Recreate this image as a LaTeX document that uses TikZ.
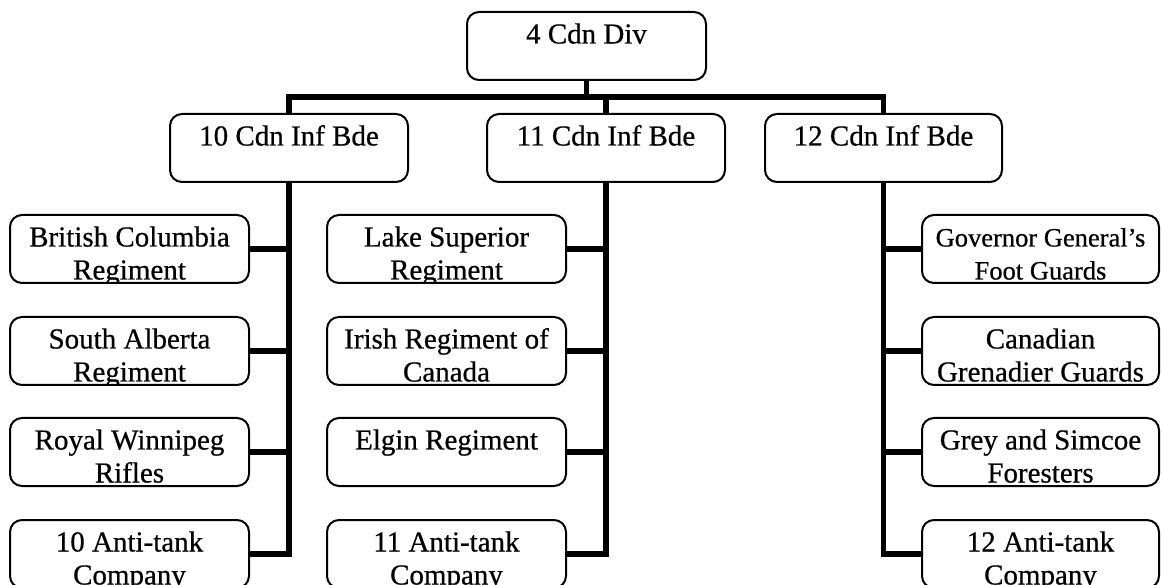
\documentclass[tikz,border=0pt]{standalone}
\usepackage{fontspec}
\setmainfont{Liberation Serif}[FakeBold=0.6]
\usepackage{graphicx}
\tikzset{
  orgbox/.style={draw, line width=2pt, rounded corners=12pt, minimum height=68pt, inner sep=0pt, outer sep=0pt},
  lbl/.style={anchor=base, inner sep=0pt, font=\fontsize{29}{32}\selectfont},
  conn/.style={line width=5.5pt, line join=miter, line cap=butt},
}
% name, cx, cy, width, line1, line2
\newcommand\orgbox[6]{%
  \begin{scope}
    \clip[rounded corners=12pt] (#2-#4/2,#3-34) rectangle (#2+#4/2,#3+34);
    \node[lbl] (#1-a) at (#2,#3-34+31.5) {#5};
    \node[lbl] (#1-b) at (#2,#3-34+64.5) {#6};
  \end{scope}
  \node[orgbox, minimum width=#4] (#1) at (#2,#3) {};
}
\begin{document}
\begin{tikzpicture}[x=1pt,y=-1pt]
\useasboundingbox (0,0) rectangle (1163,585);
\clip (0,0) rectangle (1163,585);
\fill[white] (0,0) rectangle (1163,585);
% top
\orgbox{div}{586.5}{46}{239}{4 Cdn Div}{}
% brigades
\orgbox{b10}{289}{148}{238}{10 Cdn Inf Bde}{}
\orgbox{b11}{606}{148}{238}{11 Cdn Inf Bde}{}
\orgbox{b12}{883.5}{148}{237}{12 Cdn Inf Bde}{}
% 10 Bde units
\orgbox{c101}{129.5}{249}{239}{British Columbia}{Regiment}
\orgbox{c102}{129.5}{351}{239}{South Alberta}{Regiment}
\orgbox{c103}{129.5}{452}{239}{Royal Winnipeg}{Rifles}
\orgbox{c104}{129.5}{554}{239}{10 Anti-tank}{Company}
% 11 Bde units
\orgbox{c111}{446.5}{249}{239}{Lake Superior}{Regiment}
\orgbox{c112}{446.5}{351}{239}{Irish Regiment of}{Canada}
\orgbox{c113}{446.5}{452}{239}{Elgin Regiment}{}
\orgbox{c114}{446.5}{554}{239}{11 Anti-tank}{Company}
% 12 Bde units
\orgbox{c121}{1040.5}{249}{237}{\fontsize{26.5}{32}\selectfont Governor General’s}{\fontsize{26.5}{32}\selectfont Foot Guards}
\orgbox{c122}{1040.5}{351}{237}{Canadian}{Grenadier Guards}
\orgbox{c123}{1040.5}{452}{237}{Grey and Simcoe}{Foresters}
\orgbox{c124}{1040.5}{554}{237}{12 Anti-tank}{Company}
% connectors
\coordinate (bar) at (0,97);
\draw[conn] (div.south) -- (div.south |- bar);
\draw[conn] (b10.north) -- (b10.north |- bar) -- (b12.north |- bar) -- (b12.north);
\draw[conn] (b11.north) -- (b11.north |- bar);
% 10
\draw[conn] (b10.south) -- (b10.south |- c104.east) -- (c104.east);
\draw[conn] (c101.east) -- (c101.east -| b10.south);
\draw[conn] (c102.east) -- (c102.east -| b10.south);
\draw[conn] (c103.east) -- (c103.east -| b10.south);
% 11
\draw[conn] (b11.south) -- (b11.south |- c114.east) -- (c114.east);
\draw[conn] (c111.east) -- (c111.east -| b11.south);
\draw[conn] (c112.east) -- (c112.east -| b11.south);
\draw[conn] (c113.east) -- (c113.east -| b11.south);
% 12
\draw[conn] (b12.south) -- (b12.south |- c124.west) -- (c124.west);
\draw[conn] (c121.west) -- (c121.west -| b12.south);
\draw[conn] (c122.west) -- (c122.west -| b12.south);
\draw[conn] (c123.west) -- (c123.west -| b12.south);
\end{tikzpicture}
\end{document}
